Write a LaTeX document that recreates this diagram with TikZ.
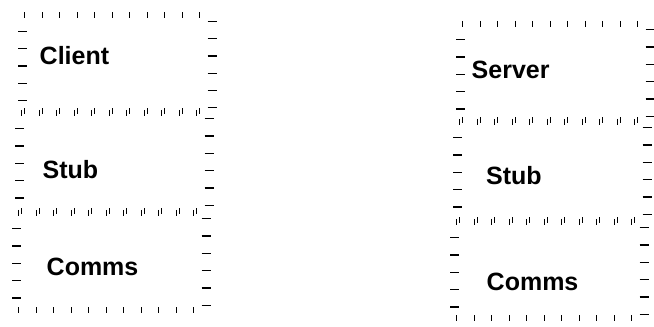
\documentclass[tikz,border=0pt]{standalone}
\usepackage{fontspec}
\setmainfont{Liberation Sans}
\usetikzlibrary{calc}
\tikzset{
  tk/.style={line width=1.25pt, black},
  boxnode/.style={rectangle, draw=none, inner sep=0pt, minimum width=189pt},
  lbl/.style={inner sep=0pt, anchor=base west, font=\fontsize{25}{30}\selectfont\bfseries}
}
\newcommand{\tickedbox}[1]{%
  \foreach \k in {0,...,10}{
    \draw[tk] ($(#1.north west)+(2+\k*17.5,-3)$) -- ++(0,6);
    \draw[tk] ($(#1.south west)+(2+\k*17.5,-3)$) -- ++(0,6);
  }
  \foreach \k in {0,...,5}{
    \draw[tk] ($(#1.north east)+(-4.5,6+\k*17.3)$) -- ++(9,0);
  }
  \foreach \k in {0,...,4}{
    \draw[tk] ($(#1.north west)+(-4.5,16+\k*17.3)$) -- ++(9,0);
  }
}
\begin{document}
\begin{tikzpicture}[x=1pt,y=-1pt]
\useasboundingbox (0,0) rectangle (654,327);
% left column
\node[boxnode, minimum height=95.5pt] (client) at (117.5,63.25) {};
\node[boxnode, minimum height=98pt] (lstub) at (114.5,162) {};
\node[boxnode, minimum height=97pt] (lcomms) at (111.5,261.5) {};
% right column
\node[boxnode, minimum height=96pt] (server) at (555.5,72) {};
\node[boxnode, minimum height=98pt] (rstub) at (552.5,171) {};
\node[boxnode, minimum height=96pt] (rcomms) at (549.5,270) {};
\tickedbox{client}
\tickedbox{lstub}
\tickedbox{lcomms}
\tickedbox{server}
\tickedbox{rstub}
\tickedbox{rcomms}
% labels
\node[lbl] (tclient) at (39.5,64.5) {Client};
\node[lbl] (tlstub) at (42.5,178) {Stub};
\node[lbl] (tlcomms) at (46.5,275) {Comms};
\node[lbl] (tserver) at (471.5,78.5) {Server};
\node[lbl] (trstub) at (486,184) {Stub};
\node[lbl] (trcomms) at (486.5,290) {Comms};
\end{tikzpicture}
\end{document}
